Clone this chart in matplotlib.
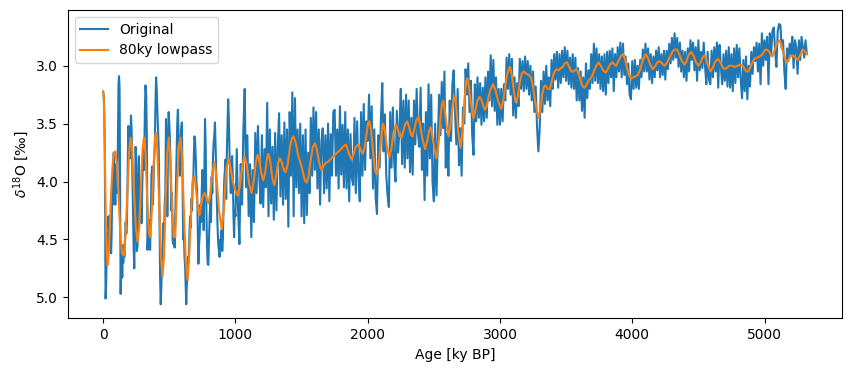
import matplotlib
matplotlib.use("Agg")
import matplotlib.pyplot as plt

# Original benthic d18O record, part 1 (0-995 ky BP)
age_orig_a = [
    0, 4, 8, 12, 15, 18, 21, 24, 28, 32, 36, 40, 45, 50, 55, 60, 64, 68, 72, 76,
    80, 84, 88, 92, 96, 100, 104, 108, 112, 116, 120, 124, 128, 132, 136, 140, 144, 148, 152, 156,
    160, 165, 170, 175, 180, 185, 190, 195, 200, 205, 210, 215, 220, 225, 230, 235, 240, 245, 250, 255,
    260, 265, 270, 275, 280, 285, 290, 295, 300, 305, 310, 315, 320, 325, 330, 335, 340, 345, 350, 355,
    360, 365, 370, 375, 380, 385, 390, 395, 400, 405, 410, 415, 420, 425, 430, 435, 440, 445, 450, 455,
    460, 465, 470, 475, 480, 485, 490, 495, 500, 505,
    510, 515, 520, 525, 530, 535, 540, 545, 550, 555, 560, 565, 570, 575, 580, 585, 590, 595, 600, 605,
    610, 615, 620, 625, 628, 632, 637, 642, 647, 652, 657, 662, 667, 672, 677, 682, 686, 690, 695, 700,
    705, 710, 715, 720, 725, 730, 735, 740, 745, 750, 755, 760, 765, 770, 775, 780, 785, 790, 795, 800,
    805, 810, 815, 820, 825, 830, 835, 840, 845, 850, 855, 860, 865, 870, 875, 880, 885, 890, 895, 900,
    905, 910, 915, 920, 925, 930, 935, 940, 945, 950, 955, 960, 965, 970, 975, 980, 985, 990, 995,
]
d18o_orig_a = [
    3.23, 3.25, 3.40, 3.70, 4.30, 5.01, 4.95, 4.80, 4.55, 4.45, 4.62, 4.30, 4.45, 4.30, 4.50, 4.62, 4.45, 4.10, 4.20, 3.90,
    3.75, 3.85, 4.10, 4.20, 3.95, 3.85, 4.10, 3.95, 3.60, 3.15, 3.09, 3.20, 4.10, 4.97, 4.70, 4.55, 4.83, 4.60, 4.70, 4.55,
    4.65, 4.50, 4.35, 4.45, 4.35, 3.95, 3.52, 3.70, 3.60, 3.80, 3.43, 3.55, 3.90, 4.20, 4.55, 4.75, 4.40, 3.70, 3.85, 4.60,
    4.55, 4.00, 3.78, 4.20, 4.30, 4.10, 4.36, 4.05, 3.85, 3.72, 3.90, 3.40, 3.17, 3.25, 3.60, 4.59, 4.45, 4.33, 4.55, 4.59,
    4.30, 3.95, 3.87, 4.20, 4.05, 3.80, 3.72, 3.35, 3.10, 3.20, 3.40, 3.55, 3.72, 4.20, 4.80, 5.06, 4.90, 4.65, 4.55, 4.36,
    4.50, 4.20, 4.10, 3.46, 3.70, 4.30, 3.72, 3.40, 3.50, 3.65,
    3.90, 4.25, 4.10, 4.50, 4.54, 4.40, 4.57, 4.30, 4.00, 3.75, 3.50, 3.38, 3.60, 3.75, 3.95, 3.65, 3.55, 3.49, 4.00, 4.50,
    4.45, 4.65, 4.75, 4.95, 5.06, 4.90, 4.83, 4.65, 4.70, 4.45, 4.30, 4.40, 4.15, 4.25, 4.00, 3.96, 3.75, 3.61, 3.65, 3.80,
    4.00, 4.07, 4.40, 4.71, 4.55, 4.45, 4.20, 4.35, 4.10, 3.90, 4.20, 4.42, 3.90, 3.46, 3.70, 4.20, 4.55, 4.71, 4.72, 4.50,
    4.30, 4.16, 4.35, 3.96, 4.10, 3.80, 3.67, 3.60, 3.49, 3.70, 3.95, 4.20, 4.40, 4.54, 4.60, 4.65, 4.50, 4.58, 4.42, 4.60,
    4.50, 4.20, 4.00, 3.90, 3.81, 4.15, 3.75, 3.50, 3.29, 3.45, 3.75, 3.95, 4.10, 3.90, 3.78, 3.95, 4.30, 4.48, 4.25,
]

# Original record, part 2: sampled every 10 ky from 1000 to 5320 ky BP
age_orig_b = list(range(1000, 5321, 10))
d18o_orig_b = [
    4.30, 3.72, 4.25, 4.54, 3.85, 4.20, 3.55, 3.20, 4.05, 3.60,   # 1000
    4.30, 3.85, 4.48, 3.90, 4.35, 3.58, 4.10, 3.52, 3.95, 4.19,   # 1100
    3.60, 4.22, 3.72, 4.05, 3.32, 4.30, 3.55, 4.19, 3.70, 4.33,   # 1200
    3.58, 4.25, 3.70, 3.41, 4.13, 3.60, 4.20, 3.49, 4.15, 3.55,   # 1300
    4.39, 3.40, 3.95, 3.23, 4.30, 3.28, 4.05, 3.55, 4.10, 3.50,   # 1400
    4.30, 3.60, 4.36, 3.55, 4.29, 3.75, 4.10, 3.45, 3.95, 3.36,   # 1500
    3.90, 3.40, 4.06, 3.55, 4.20, 3.65, 3.54, 4.10, 3.60, 4.06,   # 1600
    3.50, 4.17, 3.59, 3.95, 3.40, 3.38, 3.95, 3.55, 4.06, 3.35,   # 1700
    3.94, 3.51, 4.05, 3.40, 4.06, 3.55, 4.17, 3.59, 3.97, 4.03,   # 1800
    3.45, 4.10, 3.48, 3.95, 4.17, 3.40, 3.95, 3.33, 3.90, 3.48,   # 1900
    3.65, 3.25, 3.80, 3.35, 4.06, 3.55, 4.14, 4.28, 3.60, 3.88,   # 2000
    3.45, 3.15, 3.74, 3.42, 3.94, 4.12, 4.22, 3.40, 3.88, 3.36,   # 2100
    3.83, 4.00, 3.39, 3.75, 3.54, 3.20, 3.85, 3.30, 3.88, 3.25,   # 2200
    3.80, 3.30, 3.92, 3.45, 3.94, 3.30, 3.68, 3.20, 3.59, 3.70,   # 2300
    3.19, 3.90, 3.50, 4.16, 3.40, 3.95, 3.16, 3.80, 3.25, 4.00,   # 2400
    4.17, 3.50, 4.12, 3.65, 3.25, 3.60, 3.14, 3.54, 3.05, 3.88,   # 2500
    3.59, 3.95, 3.30, 3.65, 3.16, 3.04, 3.40, 3.68, 3.20, 3.86,   # 2600
    3.54, 3.95, 3.36, 3.50, 3.03, 3.25, 2.98, 3.40, 3.13, 3.60,   # 2700
    3.77, 3.16, 3.48, 3.10, 3.45, 3.15, 3.51, 3.19, 3.48, 3.10,   # 2800
    3.45, 3.05, 3.30, 2.91, 3.35, 2.95, 3.39, 3.10, 3.51, 3.20,   # 2900
    3.51, 3.20, 3.48, 3.16, 3.30, 2.93, 3.20, 2.90, 3.25, 2.94,   # 3000
    3.43, 3.10, 3.45, 3.15, 3.35, 2.94, 3.20, 2.96, 3.22, 2.92,   # 3100
    3.20, 2.96, 3.25, 3.00, 3.30, 3.05, 3.40, 3.18, 3.52, 3.74,   # 3200
    3.55, 3.13, 3.40, 3.05, 3.33, 3.00, 3.30, 3.10, 3.35, 2.95,   # 3300
    3.20, 2.90, 3.12, 2.88, 3.19, 2.90, 3.15, 2.87, 3.10, 2.84,   # 3400
    3.13, 2.87, 3.16, 2.93, 3.19, 2.90, 3.20, 2.93, 3.30, 3.02,   # 3500
    3.30, 3.05, 3.39, 3.10, 3.45, 2.98, 3.28, 3.04, 3.20, 2.90,   # 3600
    3.15, 2.81, 3.13, 2.85, 3.15, 2.90, 3.20, 2.92, 3.22, 2.90,   # 3700
    3.25, 2.88, 3.15, 2.87, 3.10, 2.85, 3.22, 2.90, 3.10, 2.84,   # 3800
    3.05, 2.80, 3.10, 2.81, 3.08, 2.92, 3.16, 2.98, 3.25, 3.29,   # 3900
    2.96, 3.20, 2.95, 3.19, 3.00, 3.20, 2.95, 3.10, 2.86, 3.05,   # 4000
    2.81, 3.05, 2.85, 3.12, 2.90, 3.15, 2.92, 3.10, 2.87, 3.04,   # 4100
    2.84, 3.10, 2.90, 3.08, 2.87, 3.12, 2.87, 3.03, 2.81, 2.98,   # 4200
    2.76, 2.95, 2.72, 2.93, 2.76, 3.01, 2.80, 3.05, 2.87, 3.10,   # 4300
    2.88, 3.13, 2.85, 3.05, 2.78, 2.95, 2.80, 3.04, 2.84, 3.13,   # 4400
    2.78, 3.04, 2.88, 3.02, 2.80, 3.00, 3.16, 2.88, 3.12, 3.16,   # 4500
    2.87, 3.10, 2.84, 3.05, 2.80, 3.19, 2.82, 3.01, 3.16, 2.90,   # 4600
    3.13, 2.87, 3.18, 2.84, 3.19, 2.90, 3.22, 2.85, 3.15, 2.82,   # 4700
    3.10, 2.85, 3.12, 3.28, 2.95, 3.22, 2.92, 3.29, 3.00, 3.18,   # 4800
    2.88, 3.07, 2.84, 2.96, 2.80, 3.05, 2.81, 3.16, 2.72, 3.00,   # 4900
    2.78, 2.95, 2.75, 3.16, 2.72, 2.90, 2.70, 2.67, 2.87, 3.01,   # 5000
    2.70, 2.64, 2.65, 2.85, 2.78, 3.05, 3.20, 2.85, 2.96, 2.81,   # 5100
    2.90, 2.75, 3.02, 2.78, 2.84, 3.07, 2.78, 2.95, 2.75, 2.84,   # 5200
    2.93, 2.78, 2.90,                                             # 5300
]

# 80 ky lowpass curve
age_lp = [
    0, 5, 10, 15, 20, 27, 34, 42, 50, 60, 70, 80, 92, 104, 117, 130, 142, 156, 170, 183,
    196, 207, 218, 232, 247, 260, 273, 285, 298, 308, 320, 333, 346, 356, 368, 380, 392, 400, 410, 422,
    436, 448, 460, 472, 485, 495, 505, 520, 534, 545, 558, 572, 585, 597, 610, 625, 638, 652, 667, 680,
    692, 705, 718, 728, 740, 755, 768, 782, 796, 810, 825, 842, 858, 876, 896, 912, 930, 948, 962, 980,
    1000, 1015, 1032, 1050, 1068, 1085, 1103, 1122, 1140, 1155, 1167, 1180, 1195, 1211, 1225, 1238, 1249, 1262, 1280, 1294,
    1308, 1322, 1337, 1352, 1366, 1380, 1395, 1412, 1426, 1438, 1455, 1475, 1495, 1512, 1525, 1538, 1552, 1568, 1585, 1601,
    1615, 1630, 1642, 1652, 1665, 1680, 1700, 1725, 1750, 1770, 1790, 1812, 1835, 1850, 1865, 1878, 1892, 1910, 1929, 1945,
    1961, 1975, 1990, 2002, 2012, 2025, 2040, 2055, 2067, 2080, 2095, 2107, 2117, 2128, 2145, 2163, 2178, 2195, 2213, 2228,
    2242, 2256, 2270, 2285, 2299, 2313, 2328, 2339, 2352, 2368, 2384, 2398, 2415, 2434, 2450, 2462, 2475, 2488, 2505, 2520,
    2535, 2550, 2560, 2570, 2582, 2597, 2611, 2625, 2640, 2650, 2659, 2670, 2685, 2702, 2718, 2733, 2745, 2754, 2765, 2780,
    2795, 2802, 2815, 2830, 2847, 2862, 2875, 2887, 2900, 2915, 2930, 2948, 2965, 2985, 3000, 3011, 3025, 3040, 3055, 3068,
    3076, 3090, 3105, 3115, 3124, 3135, 3150, 3165, 3180, 3200, 3220, 3235, 3250, 3265, 3280, 3293, 3305, 3320, 3333, 3343,
    3360, 3376, 3390, 3405, 3420, 3431, 3445, 3460, 3475, 3490, 3507, 3522, 3540, 3558, 3578, 3595, 3610, 3625, 3641, 3660,
    3675, 3691, 3710, 3728, 3746, 3762, 3780, 3799, 3815, 3832, 3850, 3865, 3880, 3895, 3912, 3930, 3945, 3960, 3975, 3993,
    4010, 4025, 4043, 4060, 4080, 4101, 4118, 4135, 4156, 4175, 4190, 4207, 4225, 4245, 4265, 4285, 4305, 4320, 4338, 4355,
    4375, 4396, 4410, 4425, 4446, 4465, 4482, 4501, 4518, 4532, 4547, 4562, 4577, 4592, 4608, 4625, 4647, 4665, 4682, 4698,
    4715, 4735, 4755, 4775, 4798, 4815, 4835, 4850, 4862, 4875, 4890, 4905, 4924, 4945, 4965, 4985, 5000, 5013, 5030, 5045,
    5058, 5072, 5090, 5105, 5113, 5125, 5140, 5155, 5168, 5180, 5195, 5214, 5232, 5251, 5265, 5280, 5289, 5300, 5315, 5320,
]
d18o_lp = [
    3.22, 3.30, 3.55, 3.95, 4.35, 4.62, 4.72, 4.62, 4.40, 4.10, 3.88, 3.76, 3.74, 3.85, 4.15, 4.45, 4.62, 4.64, 4.45, 4.10,
    3.75, 3.62, 3.70, 4.05, 4.40, 4.52, 4.40, 4.05, 3.72, 3.62, 3.75, 4.15, 4.45, 4.48, 4.25, 3.90, 3.62, 3.58, 3.72, 4.15,
    4.62, 4.82, 4.65, 4.15, 3.75, 3.62, 3.75, 4.20, 4.48, 4.48, 4.05, 3.70, 3.62, 3.80, 4.25, 4.70, 4.85, 4.60, 4.20, 3.97,
    3.96, 4.10, 4.25, 4.29, 4.20, 4.12, 4.10, 4.14, 4.19, 4.10, 3.92, 3.83, 3.98, 4.25, 4.41, 4.25, 3.90, 3.80, 3.88, 4.00,
    4.08, 4.12, 4.05, 3.88, 3.78, 3.85, 4.02, 4.10, 3.98, 3.83, 3.77, 3.82, 3.93, 3.99, 3.92, 3.80, 3.76, 3.82, 3.98, 4.03,
    3.95, 3.84, 3.80, 3.84, 3.90, 3.92, 3.85, 3.70, 3.63, 3.61, 3.66, 3.78, 3.85, 3.93, 3.99, 4.01, 3.96, 3.82, 3.70, 3.67,
    3.72, 3.82, 3.88, 3.90, 3.87, 3.84, 3.83, 3.80, 3.77, 3.75, 3.73, 3.70, 3.68, 3.73, 3.78, 3.81, 3.77, 3.70, 3.68, 3.72,
    3.76, 3.72, 3.60, 3.50, 3.48, 3.55, 3.74, 3.90, 3.94, 3.88, 3.70, 3.56, 3.50, 3.55, 3.70, 3.79, 3.72, 3.58, 3.51, 3.55,
    3.61, 3.62, 3.56, 3.50, 3.48, 3.53, 3.60, 3.61, 3.55, 3.47, 3.44, 3.52, 3.64, 3.72, 3.65, 3.57, 3.53, 3.60, 3.72, 3.80,
    3.68, 3.45, 3.34, 3.30, 3.38, 3.52, 3.61, 3.52, 3.36, 3.28, 3.26, 3.36, 3.58, 3.71, 3.55, 3.28, 3.13, 3.11, 3.18, 3.32,
    3.43, 3.45, 3.38, 3.30, 3.27, 3.30, 3.35, 3.38, 3.35, 3.26, 3.20, 3.16, 3.21, 3.30, 3.35, 3.37, 3.30, 3.17, 3.07, 3.02,
    3.01, 3.08, 3.22, 3.30, 3.32, 3.26, 3.14, 3.07, 3.05, 3.07, 3.08, 3.10, 3.18, 3.30, 3.40, 3.45, 3.38, 3.24, 3.18, 3.17,
    3.20, 3.20, 3.14, 3.07, 3.04, 3.03, 3.04, 3.02, 3.01, 2.98, 2.97, 3.01, 3.05, 3.05, 3.03, 3.07, 3.13, 3.18, 3.19, 3.15,
    3.12, 3.10, 3.05, 3.00, 2.97, 3.00, 3.04, 3.06, 3.03, 2.99, 2.97, 2.99, 3.00, 2.96, 2.92, 2.90, 2.94, 3.02, 3.08, 3.11,
    3.10, 3.09, 3.08, 3.03, 2.95, 2.90, 2.93, 2.99, 3.03, 3.00, 2.97, 2.96, 2.98, 3.00, 2.97, 2.92, 2.88, 2.86, 2.86, 2.90,
    2.96, 2.99, 2.96, 2.91, 2.88, 2.92, 2.97, 3.00, 2.97, 2.93, 2.91, 2.95, 3.01, 3.05, 3.02, 2.97, 2.94, 2.97, 3.01, 3.03,
    3.02, 3.00, 3.00, 3.01, 3.00, 2.99, 3.00, 3.03, 3.05, 3.05, 3.02, 2.98, 2.94, 2.93, 2.92, 2.90, 2.87, 2.86, 2.87, 2.90,
    2.92, 2.88, 2.82, 2.79, 2.78, 2.81, 2.88, 2.94, 2.97, 2.95, 2.92, 2.91, 2.93, 2.95, 2.92, 2.88, 2.86, 2.87, 2.89, 2.90,
]

age_orig = age_orig_a + age_orig_b
d18o_orig = d18o_orig_a + d18o_orig_b
n = min(len(age_orig), len(d18o_orig))

fig = plt.figure(figsize=(8.52, 3.71), dpi=100)
ax = fig.add_axes([0.0798, 0.142, 0.9085, 0.831])
ax.plot(age_orig[:n], d18o_orig[:n], color="C0", label="Original")
ax.plot(age_lp, d18o_lp, color="C1", label="80ky lowpass")
ax.invert_yaxis()
ax.set_xlabel("Age [ky BP]")
ax.set_ylabel(r"$\delta^{18}$O [‰]")
ax.legend(loc="upper left")
fig.savefig("out.png", dpi=100)
